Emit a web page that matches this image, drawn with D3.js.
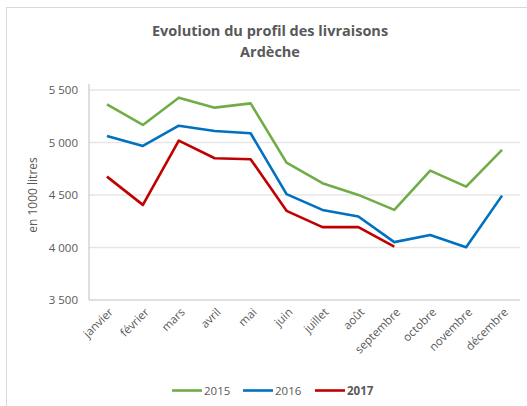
<!DOCTYPE html>
<html><head><meta charset="utf-8">
<script src="https://cdn.jsdelivr.net/npm/d3@7/dist/d3.min.js"></script>
<style>html,body{margin:0;padding:0;background:#fff;}svg{display:block;}</style>
</head><body>
<svg id="c" width="527" height="406"></svg>
<script>
const months = ["janvier","février","mars","avril","mai","juin","juillet","août","septembre","octobre","novembre","décembre"];
const v2015 = [5364,5167,5427,5332,5373,4808,4612,4501,4358,4732,4580,4929];
const v2016 = [5062,4967,5160,5110,5088,4508,4358,4295,4051,4120,4003,4494];
const v2017 = [4675,4406,5018,4850,4841,4349,4194,4194,4009];
const yTicks = [3500,4000,4500,5000,5500];
const seriesNames = ["2015","2016","2017"];
const colors = ["#70ad47","#0070c0","#c00000"];
const seriesValues = [v2015, v2016, v2017];

const font = "Open Sans, sans-serif";
const svg = d3.select("#c");
svg.append("rect").attr("x",6.5).attr("y",7.5).attr("width",540).attr("height",420)
  .attr("fill","#fff").attr("stroke","#d9d9d9").attr("stroke-width",1);

const L = 89, R = 520, T = 90, B = 300;
const x = d3.scaleBand().domain(months).range([L, R]);
const y = d3.scaleLinear().domain([3500,5500]).range([B, T]);

svg.append("g").selectAll("line").data(yTicks.slice(1)).join("line")
  .attr("x1",L).attr("x2",R).attr("y1",d=>y(d)).attr("y2",d=>y(d))
  .attr("stroke","#e6e6e6").attr("stroke-width",1.5);

svg.append("line").attr("x1",L).attr("x2",L).attr("y1",T-6).attr("y2",B).attr("stroke","#bfbfbf").attr("stroke-width",1);
svg.append("line").attr("x1",L).attr("x2",R).attr("y1",B).attr("y2",B).attr("stroke","#bfbfbf").attr("stroke-width",1);

const fmt = d => d3.format(",")(d).replace(/,/g, " ");
svg.append("g").selectAll("text").data(yTicks).join("text")
  .attr("x",78).attr("y",d=>y(d)).attr("dy","0.35em").attr("text-anchor","end")
  .attr("font-family",font).attr("font-size",11.5).attr("fill","#595959").text(fmt);

svg.append("g").selectAll("text").data(months).join("text")
  .attr("transform",d=>`translate(${x(d)+x.bandwidth()/2+4},${B+10}) rotate(-45)`)
  .attr("text-anchor","end").attr("dy","0.35em")
  .attr("font-family",font).attr("font-size",11.5).attr("fill","#595959").text(d=>d);

svg.append("text").attr("transform","translate(37,195) rotate(-90)").attr("text-anchor","middle")
  .attr("font-family",font).attr("font-size",12).attr("fill","#595959").text("en 1000 litres");

const tt = svg.append("text").attr("text-anchor","middle").attr("font-family",font)
  .attr("font-weight","bold").attr("font-size",14.5).attr("fill","#595959");
tt.append("tspan").attr("x",270).attr("y",36).text("Evolution du profil des livraisons");
tt.append("tspan").attr("x",270).attr("y",57).text("Ardèche");

const line = d3.line().x((d,i)=>x(months[i])+x.bandwidth()/2).y(d=>y(d));
seriesValues.forEach((vals,k)=>{
  svg.append("path").datum(vals).attr("d",line).attr("fill","none")
    .attr("stroke",colors[k]).attr("stroke-width",2.6).attr("stroke-linejoin","round");
});

const legX = [172, 243, 315];
seriesNames.forEach((n,k)=>{
  svg.append("line").attr("x1",legX[k]).attr("x2",legX[k]+30).attr("y1",390.5).attr("y2",390.5)
    .attr("stroke",colors[k]).attr("stroke-width",2.6);
  svg.append("text").attr("x",legX[k]+32).attr("y",390.5).attr("dy","0.35em")
    .attr("font-family",font).attr("font-size",11.5).attr("fill","#595959")
    .attr("font-weight",k===2?"bold":"normal").text(n);
});
</script>
</body></html>
